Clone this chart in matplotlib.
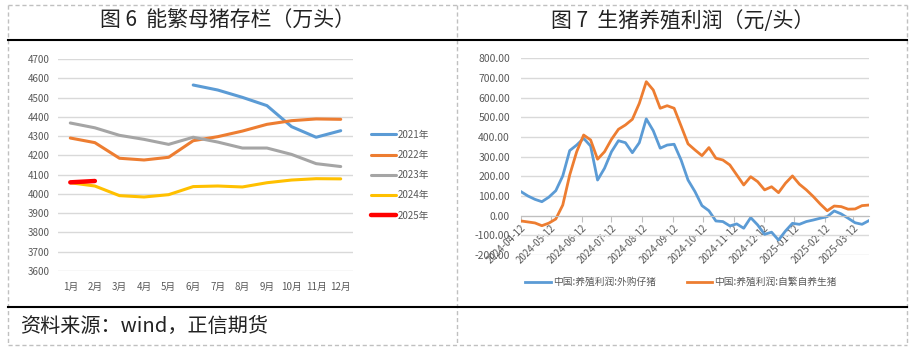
import numpy as np
import pandas as pd
import matplotlib
matplotlib.use("Agg")
import matplotlib.pyplot as plt
import matplotlib.dates as mdates
from matplotlib.lines import Line2D

plt.rcParams['font.family'] = ['Noto Sans CJK SC', 'DejaVu Sans']

# ---------------- data ----------------
months = ['1月', '2月', '3月', '4月', '5月', '6月', '7月', '8月', '9月', '10月', '11月', '12月']
sow_2021 = [None, None, None, None, None, 4565, 4539, 4501, 4458, 4349, 4294, 4328]
sow_2022 = [4290, 4266, 4185, 4176, 4190, 4276, 4297, 4326, 4361, 4380, 4389, 4387]
sow_2023 = [4368, 4343, 4304, 4283, 4257, 4294, 4269, 4238, 4238, 4205, 4157, 4142]
sow_2024 = [4058, 4041, 3991, 3984, 3996, 4038, 4041, 4036, 4058, 4072, 4079, 4078]
sow_2025 = [4060, 4067]
sow_labels = ['2021年', '2022年', '2023年', '2024年', '2025年']

profit_dates = pd.date_range('2024-04-12', periods=51, freq='7D')
profit_bought = [122, 100, 83, 71, 94, 127, 202, 331, 359, 393,
                 354, 181, 241, 325, 381, 371, 320, 371, 492, 432,
                 343, 359, 363, 283, 181, 122, 51, 25, -27, -30,
                 -52, -42, -64, -10, -47, -95, -84, -124, -78, -39,
                 -44, -30, -22, -13, -5, 24, 9, -13, -36, -44, -25]
profit_self = [-27, -32, -37, -51, -38, -17, 54, 207, 325, 410,
               385, 287, 325, 388, 439, 461, 490, 571, 681, 639,
               546, 559, 546, 456, 365, 334, 305, 346, 292, 283,
               258, 207, 156, 198, 173, 131, 147, 117, 165, 202,
               160, 131, 97, 59, 25, 49, 46, 33, 34, 51, 54]
profit_labels = ['中国:养殖利润:外购仔猪', '中国:养殖利润:自繁自养生猪']
profit_ticks = pd.date_range('2024-04-01', '2025-03-01', freq='MS') + pd.Timedelta(days=11)

# ---------------- figure ----------------
W, H = 915, 354
fig = plt.figure(figsize=(W / 100, H / 100), dpi=100)

def fx(x):
    return x / W

def fy(y):
    return 1 - y / H

# frame
dash_c = '#C0C0C0'
for (x0, y0, x1, y1) in [(8, 5, 907, 5), (8, 345, 907, 345), (8, 5, 8, 345),
                         (907, 5, 907, 345), (457, 5, 457, 345)]:
    fig.add_artist(Line2D([fx(x0), fx(x1)], [fy(y0), fy(y1)], color=dash_c,
                          lw=1, ls=(0, (3, 2)), transform=fig.transFigure))
for y in (40, 307):
    fig.add_artist(Line2D([fx(8), fx(907)], [fy(y), fy(y)], color='black',
                          lw=1.5, transform=fig.transFigure))

fig.text(fx(228), fy(21), '图 6  能繁母猪存栏（万头）', ha='center', va='center',
         fontsize=15, color='#222222')
fig.text(fx(683), fy(21), '图 7  生猪养殖利润（元/头）', ha='center', va='center',
         fontsize=15, color='#222222')
fig.text(fx(20), fy(326), '资料来源：wind，正信期货', ha='left', va='center',
         fontsize=14.5, color='#222222')

tick_c = '#595959'
grid_c = '#D9D9D9'

# ---------------- left chart ----------------
ax1 = fig.add_axes([fx(58), fy(271), fx(353) - fx(58), fy(59) - fy(271)])
x = np.arange(len(months))
colors1 = ['#5B9BD5', '#ED7D31', '#A5A5A5', '#FFC000', '#FF0000']
series = [sow_2021, sow_2022, sow_2023, sow_2024, sow_2025]
for s, c, lab in zip(series, colors1, sow_labels):
    arr = np.array([np.nan if v is None else v for v in s], dtype=float)
    lw = 3.2 if lab == '2025年' else 2.2
    ax1.plot(x[:len(arr)], arr, color=c, lw=lw, label=lab, solid_capstyle='round')
ax1.set_xlim(-0.5, 11.5)
ax1.set_ylim(3600, 4700)
ax1.set_yticks(np.arange(3600, 4701, 100))
ax1.set_xticks(x)
ax1.set_xticklabels(months)
ax1.grid(axis='y', color=grid_c, lw=1)
ax1.set_axisbelow(True)
for sp in ax1.spines.values():
    sp.set_visible(False)
ax1.tick_params(axis='both', length=0, labelsize=7, colors=tick_c, pad=6)
ax1.tick_params(axis='x', pad=8)
ax1.legend(loc='upper left', bbox_to_anchor=(fx(362), fy(121)), bbox_transform=fig.transFigure,
           frameon=False, fontsize=7, handlelength=2.6, handletextpad=0.15,
           labelspacing=1.05, labelcolor=tick_c)

# ---------------- right chart ----------------
ax2 = fig.add_axes([fx(521), fy(255), fx(869) - fx(521), fy(58.3) - fy(255)])
ax2.plot(profit_dates, profit_bought, color='#5B9BD5', lw=2.0, label=profit_labels[0])
ax2.plot(profit_dates, profit_self, color='#ED7D31', lw=2.0, label=profit_labels[1])
ax2.set_xlim(profit_dates[0], profit_dates[-1])
ax2.set_ylim(-200, 800)
ax2.set_yticks(np.arange(-200, 801, 100))
ax2.yaxis.set_major_formatter(matplotlib.ticker.FuncFormatter(lambda v, p: f'{v:.2f}'))
ax2.set_xticks(profit_ticks)
ax2.xaxis.set_major_formatter(mdates.DateFormatter('%Y-%m-%d'))
ax2.grid(axis='y', color=grid_c, lw=1)
ax2.set_axisbelow(True)
for k in ('top', 'right', 'left'):
    ax2.spines[k].set_visible(False)
ax2.spines['bottom'].set_position(('data', 0))
ax2.spines['bottom'].set_color('#BFBFBF')
ax2.tick_params(axis='y', length=0, labelsize=7.5, colors=tick_c, pad=8)
ax2.tick_params(axis='x', length=4, labelsize=7, pad=1)
ax2.tick_params(axis='x', colors='#BFBFBF', labelcolor=tick_c)
for lbl in ax2.get_xticklabels():
    lbl.set_rotation(45)
    lbl.set_ha('right')
    lbl.set_rotation_mode('anchor')
ax2.legend(loc='center', bbox_to_anchor=(fx(681), fy(282)), bbox_transform=fig.transFigure,
           ncol=2, frameon=False, fontsize=7, handlelength=2.6, handletextpad=0.2,
           columnspacing=3.2, labelcolor=tick_c)

fig.savefig('out.png', dpi=100)
